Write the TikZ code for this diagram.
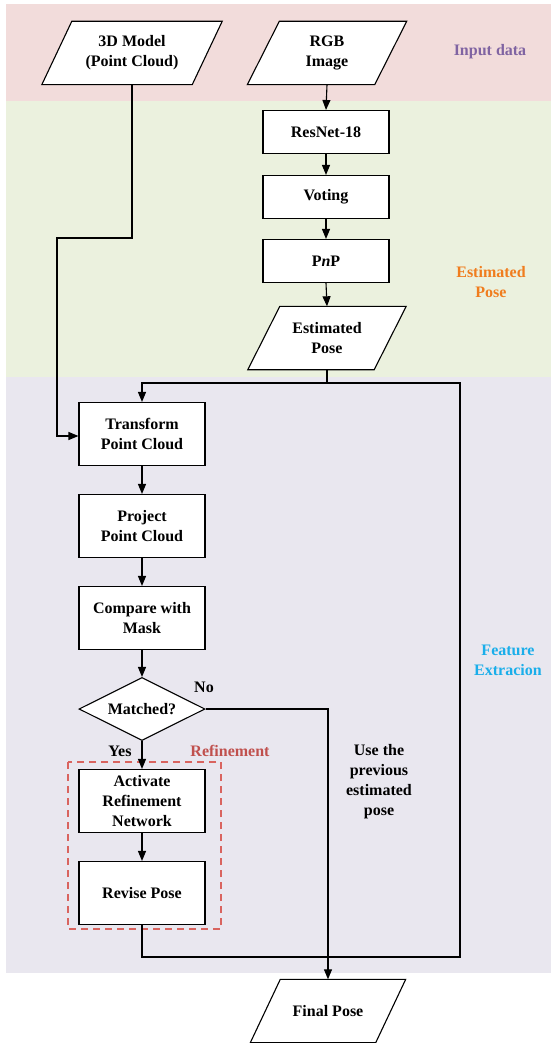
\documentclass[tikz,border=0pt]{standalone}
\usepackage{fontspec}
\setmainfont{Liberation Serif}
\usetikzlibrary{arrows.meta,calc,shapes.geometric}
\definecolor{bandpink}{HTML}{F2DCDB}
\definecolor{bandgreen}{HTML}{EBF1DE}
\definecolor{bandlav}{HTML}{E9E7EF}
\definecolor{lblpurple}{HTML}{8064A2}
\definecolor{lblorange}{HTML}{F07D1E}
\definecolor{lblcyan}{HTML}{1AAEEA}
\definecolor{lblred}{HTML}{C0504D}
\definecolor{dashred}{HTML}{D9645F}
\tikzset{
  txt/.style={font=\fontsize{16}{20}\selectfont\bfseries, align=center},
  stepbox/.style={txt, draw, line width=1.1pt, fill=white, minimum width=126pt, minimum height=63pt, inner sep=0pt},
  smallbox/.style={stepbox, minimum height=43pt},
  paratxt/.style={txt, inner sep=0pt, minimum height=63pt},
  ln/.style={line width=1.1pt},
  arr/.style={ln, -{Triangle[length=10pt,width=8pt]}},
  sidelbl/.style={txt},
}
\newcommand\parashape[3]{%
  \fill[white] ($(#1.north west)+(#2,0)$) -- ($(#1.north east)+(#2,0)$) -- ($(#1.south east)+(-#2,0)$) -- ($(#1.south west)+(-#2,0)$) -- cycle;
  \draw[line width=1.1pt] ($(#1.north west)+(#2,0)$) -- ($(#1.north east)+(#2,0)$) -- ($(#1.south east)+(-#2,0)$) -- ($(#1.south west)+(-#2,0)$) -- cycle;
  \node[paratxt, minimum width=#3] at (#1) {\phantom{x}};%
}
\begin{document}
\begin{tikzpicture}[x=1pt,y=-1pt]
\useasboundingbox (0,0) rectangle (551,1043);
% bands
\fill[bandpink] (6,4) rectangle (551,101);
\fill[bandgreen] (6,101) rectangle (551,377);
\fill[bandlav] (6,377) rectangle (551,973);

% parallelogram nodes (shape drawn around invisible boxes)
\path node[paratxt, minimum width=150pt] (model) at (132,53) {};
\path node[paratxt, minimum width=127pt] (rgb) at (327,53) {};
\path node[paratxt, minimum width=126pt] (est) at (327,338) {};
\path node[paratxt, minimum width=125pt] (final) at (328,1011) {};
\foreach \n/\s in {model/15, rgb/16, est/16, final/15}{
  \fill[white] ($(\n.north west)+(\s,0)$) -- ($(\n.north east)+(\s,0)$) -- ($(\n.south east)+(-\s,0)$) -- ($(\n.south west)+(-\s,0)$) -- cycle;
  \draw[ln] ($(\n.north west)+(\s,0)$) -- ($(\n.north east)+(\s,0)$) -- ($(\n.south east)+(-\s,0)$) -- ($(\n.south west)+(-\s,0)$) -- cycle;
}
\node[txt] (modelt) at (model) {3D Model\\(Point Cloud)};
\node[txt] (rgbt) at (rgb) {RGB\\Image};
\node[txt] (estt) at (est) {Estimated\\Pose};
\node[txt] (finalt) at (final) {Final Pose};

% boxes
\node[smallbox] (resnet) at (326,132) {ResNet-18};
\node[smallbox] (voting) at (326,197) {Voting};
\node[smallbox] (pnp) at (326,261) {P\textit{n}P};
\node[stepbox] (trans) at (142,434) {Transform\\Point Cloud};
\node[stepbox] (proj) at (142,526) {Project\\Point Cloud};
\node[stepbox] (comp) at (142,618) {Compare with\\Mask};
\node[txt, diamond, draw, line width=1.1pt, fill=white, aspect=2, inner sep=0pt, minimum width=126pt, minimum height=63pt] (match) at (142,709) {Matched?};
\node[stepbox] (act) at (142,801) {Activate\\Refinement\\Network};
\node[stepbox] (revise) at (142,893) {Revise Pose};

% refinement frame
\draw[dashred, line width=1.1pt, dash pattern=on 7pt off 5pt] (68,762) rectangle (221,929);
\node[txt, text=lblred] (reflbl) at (230,751) {Refinement};

% side labels
\node[sidelbl, text=lblpurple] (lin) at (490,52) {Input data};
\node[sidelbl, text=lblorange] (lest) at (491,282) {Estimated\\Pose};
\node[sidelbl, text=lblcyan] (lfeat) at (508,660) {Feature\\Extracion};

% connectors
\draw[arr] (rgb.south) -- (resnet.north);
\draw[arr] (resnet) -- (voting);
\draw[arr] (voting) -- (pnp);
\draw[arr] (pnp.south) -- (est.north);

\coordinate (m1) at (57,238);
\coordinate (m2) at (57,436);
\draw[arr] (model.south) |- (m1) -- (m2) -- (trans.west |- m2);

\coordinate (j1) at (327,383);
\coordinate (rc) at (460,383);
\coordinate (rb) at (460,957);
\draw[arr] (est.south) -- (j1) -| (trans.north);
\draw[ln] (j1) -- (rc) -- (rb) -| (revise.south);

\draw[arr] (trans) -- (proj);
\draw[arr] (proj) -- (comp);
\draw[arr] (comp) -- (match);
\draw[arr] (match) -- (act);
\draw[arr] (act) -- (revise);
\draw[arr] (match.east) -| (final.north);

\node[txt] (nolbl) at (204,687) {No};
\node[txt] (yeslbl) at (120,751) {Yes};
\node[txt] (uselbl) at (379,782) {Use the\\previous\\estimated\\pose};
\end{tikzpicture}
\end{document}
